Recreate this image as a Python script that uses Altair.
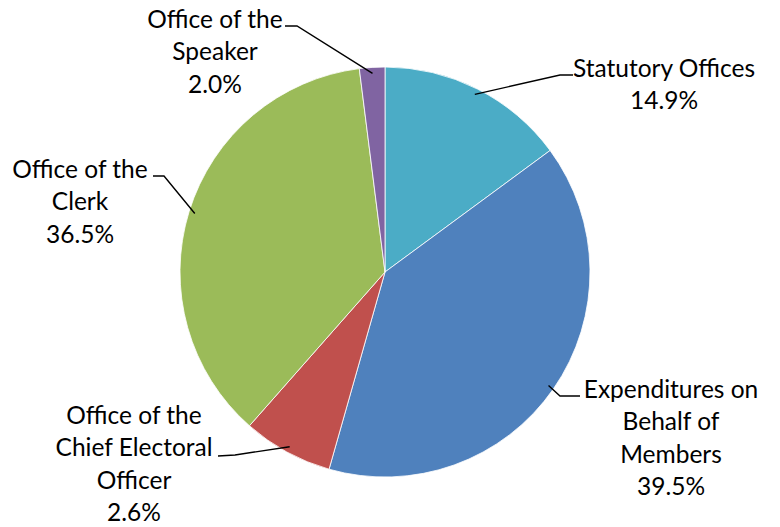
import math
import altair as alt
import pandas as pd

# ---- data ----
categories = [
    "Statutory Offices",
    "Expenditures on Behalf of Members",
    "Office of the Chief Electoral Officer",
    "Office of the Clerk",
    "Office of the Speaker",
]
label_text = [
    "Statutory Offices",
    "Expenditures on\nBehalf of\nMembers",
    "Office of the\nChief Electoral\nOfficer",
    "Office of the\nClerk",
    "Office of the\nSpeaker",
]
# slice sizes as drawn (the red slice is drawn at ~7.1% although labelled 2.6%)
shares = [14.9, 39.5, 7.1, 36.5, 2.0]
pct_labels = ["14.9%", "39.5%", "2.6%", "36.5%", "2.0%"]
colors = ["#4BACC6", "#4F81BD", "#C0504D", "#9BBB59", "#8064A2"]

# ---- layout ----
W, H = 764, 511
CX, CY, R = 377, 262, 205
# centre x and first-line y of each label block
label_pos = [(656, 60), (663, 381), (126, 407), (72, 161), (207, 11)]
elbow = [(552, 65), (552, 386), (227, 445), (156, 166), (289, 16)]
end = [(565, 65), (572, 386), (210, 446), (145, 166), (277, 16)]

pie_df = pd.DataFrame({"category": categories, "share": shares, "idx": list(range(len(shares)))})

# leader-line anchors from slice mid-angles
rows = []
cum = 0.0
for i, (c, v) in enumerate(zip(categories, shares)):
    ang = 2 * math.pi * (cum + v / 2) / 100.0
    cum += v
    ra = R - 6
    ax, ay = CX + ra * math.sin(ang), CY - ra * math.cos(ang)
    rows.append({"category": c, "seq": 0, "px": ax, "py": ay})
    rows.append({"category": c, "seq": 1, "px": elbow[i][0], "py": elbow[i][1]})
    rows.append({"category": c, "seq": 2, "px": end[i][0], "py": end[i][1]})
line_df = pd.DataFrame(rows)

lab_df = pd.DataFrame({
    "category": categories,
    "text": [t + "\n" + p for t, p in zip(label_text, pct_labels)],
    "px": [p[0] for p in label_pos],
    "py": [p[1] for p in label_pos],
})

xs = alt.Scale(domain=[0, W], nice=False, zero=False)
ys = alt.Scale(domain=[0, H], nice=False, zero=False, reverse=True)

pie = alt.Chart(pie_df).mark_arc(radius=R, stroke="white", strokeWidth=0.8).encode(
    theta=alt.Theta("share:Q", stack=True),
    color=alt.Color("category:N", scale=alt.Scale(domain=categories, range=colors), legend=None),
    order=alt.Order("idx:Q"),
    x=alt.value(CX),
    y=alt.value(CY),
)

lines = alt.Chart(line_df).mark_line(color="black", strokeWidth=1.4).encode(
    x=alt.X("px:Q", scale=xs, axis=None),
    y=alt.Y("py:Q", scale=ys, axis=None),
    detail="category:N",
    order="seq:Q",
)

labels = alt.Chart(lab_df).mark_text(
    lineBreak="\n", font="Lato", fontSize=24.5, lineHeight=32.3,
    align="center", baseline="middle", color="black",
).encode(
    x=alt.X("px:Q", scale=xs, axis=None),
    y=alt.Y("py:Q", scale=ys, axis=None),
    text="text:N",
)

chart = alt.layer(pie, lines, labels).properties(
    width=W, height=H, padding=0
).configure_view(stroke=None)

chart.save("out.html", embed_options={"renderer": "svg", "actions": False})
